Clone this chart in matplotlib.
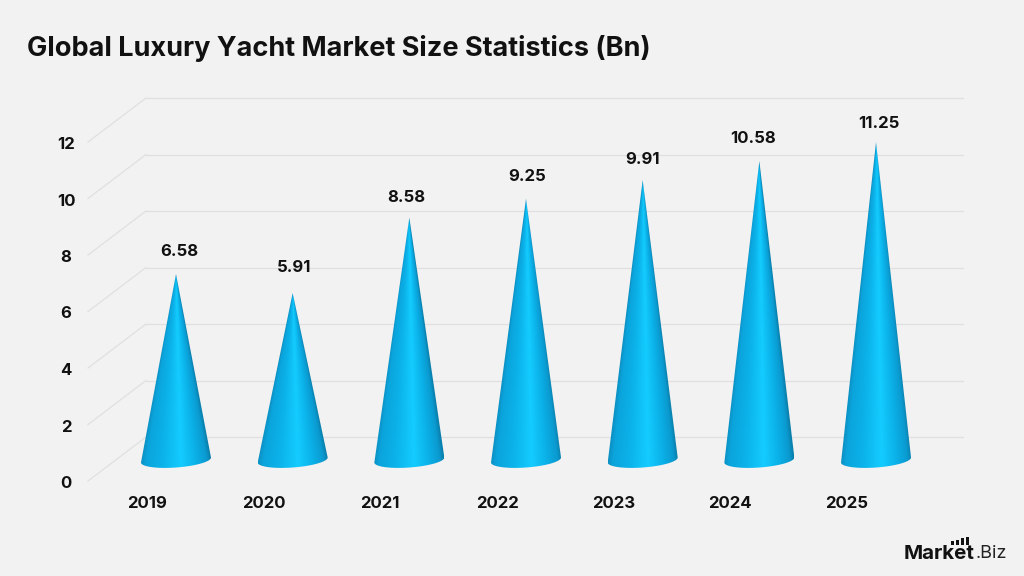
#!/usr/bin/env python3
# -*- coding: utf-8 -*-
"""
cone chart of the global luxury yacht market size, 2019-2025
"""
import numpy as np
import matplotlib
matplotlib.use("Agg")
import matplotlib.pyplot as plt
from matplotlib.patches import PathPatch, Rectangle
from matplotlib.path import Path

YEARS = ["2019", "2020", "2021", "2022", "2023", "2024", "2025"]
VALUES = [6.58, 5.91, 8.58, 9.25, 9.91, 10.58, 11.25]
Y_TICKS = [0, 2, 4, 6, 8, 10, 12]

TITLE = "Global Luxury Yacht Market Size Statistics (Bn)"
FONT = "Inter"
BG = "#f2f2f2"
GRID = "#e0e0e0"
TEXT = "#111111"

# figure layout, in pixels
W, H = 1024, 576
FIRST_X = 176.0
STEP_X = 116.67
BASE_Y = 460.0
PX_PER_UNIT = 28.25
BACK_SHIFT = 23.0    # back wall below the cone base line
FRONT_SHIFT = -21.0  # front edge of the floor below the cone base line
WALL_LEFT, WALL_RIGHT = 146.0, 963.0

# fine placement of the value labels, pixels
LABEL_DX = [3, 1, -3, 1, 0, -6, 3]
LABEL_DY = [23, 26, 20, 22, 21, 23, 19]

# colour across the cone surface, -1 left edge, 1 right edge
SHADE_POS = [-1.0, -0.85, -0.4, 0.15, 0.55, 0.88, 1.0]
SHADE_COL = ["#0c90c2", "#0ba4dc", "#0bb2e9", "#14ccff", "#0bb2e9", "#0a9ad0", "#0a80ac"]


def px_x(px):
    return (px - FIRST_X) / STEP_X


def px_y(px):
    return (BASE_Y - px) / PX_PER_UNIT


def shade(u):
    rgb = np.array([matplotlib.colors.to_rgb(c) for c in SHADE_COL])
    return np.dstack([np.interp(u, SHADE_POS, rgb[:, i]) for i in range(3)])


def draw_cone(ax, pos, value):
    half_w = 35.0 / STEP_X
    semi_h = 7.5 / PX_PER_UNIT
    tilt = 2.5 / PX_PER_UNIT  # right side of the base sits a little higher

    # outline: tip, right rim, lower half of the base ellipse, left rim
    t = np.linspace(0, np.pi, 60)
    ex = pos + half_w * np.cos(t)
    ey = -semi_h * np.sin(t) + tilt * np.cos(t)
    verts = [(pos, value)] + list(zip(ex, ey)) + [(pos, value)]
    codes = [Path.MOVETO] + [Path.LINETO] * (len(verts) - 2) + [Path.CLOSEPOLY]
    outline = Path(verts, codes)

    # shading follows the lines that run from the tip to the rim
    xs = np.linspace(pos - half_w, pos + half_w, 200)
    ys = np.linspace(value, -semi_h - tilt, 500)
    xx, yy = np.meshgrid(xs, ys)
    frac = np.clip((value - yy) / value, 1e-3, 1.0)
    u = np.clip((xx - pos) / (half_w * frac), -1, 1)
    im = ax.imshow(shade(u), extent=[xs[0], xs[-1], ys[-1], ys[0]],
                   origin="upper", aspect="auto", zorder=3, interpolation="bilinear")
    clip = PathPatch(outline, transform=ax.transData, fc="none", ec="none")
    ax.add_patch(clip)
    im.set_clip_path(clip)


def main():
    plt.rcParams["font.family"] = [FONT, "DejaVu Sans"]

    fig = plt.figure(figsize=(W / 100, H / 100), dpi=100, facecolor=BG)
    ax = fig.add_axes([0, 0, 1, 1])
    ax.set_axis_off()

    back_dy = BACK_SHIFT / PX_PER_UNIT
    front_dy = FRONT_SHIFT / PX_PER_UNIT

    # back wall lines and the floor diagonals
    for tick in Y_TICKS:
        ax.plot([px_x(WALL_LEFT), px_x(WALL_RIGHT)], [tick + back_dy] * 2,
                color=GRID, lw=0.9, zorder=1)
        ax.plot([px_x(WALL_LEFT), px_x(WALL_LEFT - 58)],
                [tick + back_dy, tick + front_dy],
                color=GRID, lw=0.9, zorder=1)
        ax.text(px_x(66), tick + front_dy - 2.5 / PX_PER_UNIT, str(tick), ha="center",
                va="center", fontsize=12, fontweight="bold", color=TEXT)

    for i, (year, value) in enumerate(zip(YEARS, VALUES)):
        draw_cone(ax, i, value)
        ax.text(i + px_x(FIRST_X - 29), px_y(504), year, ha="center", va="center",
                fontsize=12, fontweight="bold", color=TEXT)
        ax.text(i + LABEL_DX[i] / STEP_X, value + LABEL_DY[i] / PX_PER_UNIT, f"{value:.2f}",
                ha="center", va="center", fontsize=12, fontweight="bold", color=TEXT)

    ax.set_xlim(px_x(0), px_x(W))
    ax.set_ylim(px_y(H), px_y(0))

    fig.text(27 / W, 1 - 49 / H, TITLE, ha="left", va="center",
             fontsize=19.5, fontweight="bold", color=TEXT)

    # logo in the bottom right corner
    fig.text(904 / W, 1 - 554 / H, "Market", ha="left", va="center",
             fontsize=14.8, fontweight="bold", color=TEXT)
    fig.text(976 / W, 1 - 554 / H, ".Biz", ha="left", va="center",
             fontsize=13, color="#222222")
    for left, top, bottom in [(951, 541, 545), (956, 540, 545), (961, 538, 545),
                              (966, 537, 545)]:
        fig.add_artist(Rectangle((left / W, 1 - bottom / H), 2.6 / W, (bottom - top) / H,
                                 transform=fig.transFigure, fc=TEXT, ec="none"))

    fig.savefig("out.png", dpi=100, facecolor=BG)


if __name__ == "__main__":
    main()
